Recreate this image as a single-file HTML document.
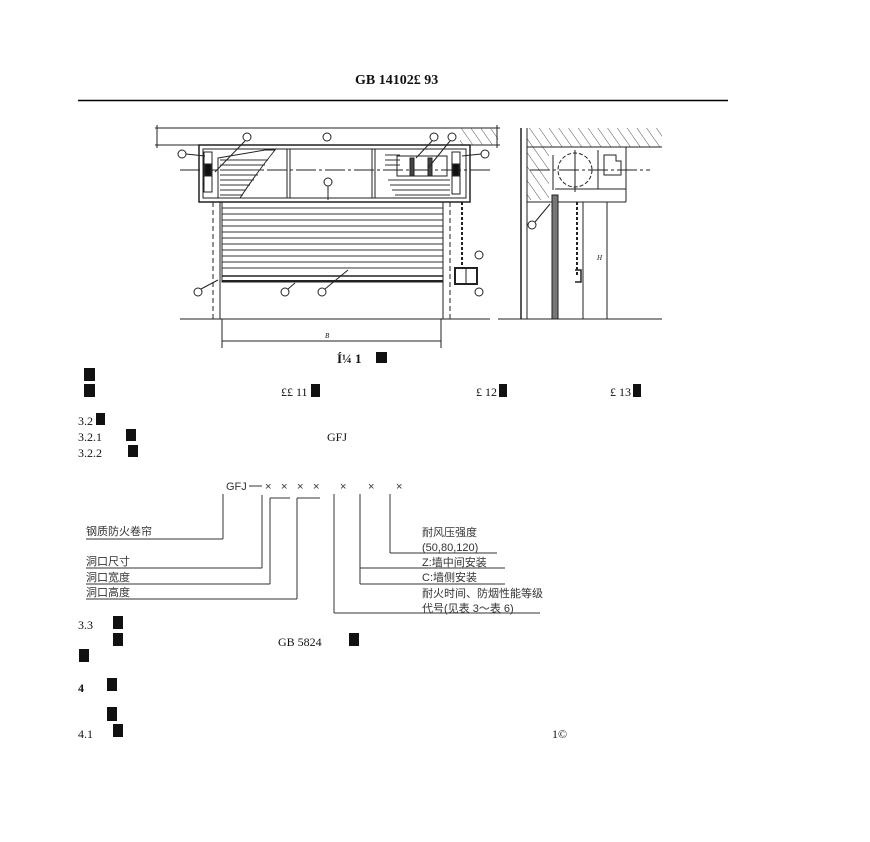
<!DOCTYPE html>
<html><head><meta charset="utf-8"><style>
html,body{margin:0;padding:0;background:#fff;}
svg{display:block;}
text{font-family:"Liberation Serif","Noto Serif CJK SC",serif;fill:#111;}
.c{font-family:"Liberation Sans","Noto Sans CJK SC",sans-serif;font-size:11px;fill:#333;}
</style></head><body>
<svg width="870" height="842" viewBox="0 0 870 842" xmlns="http://www.w3.org/2000/svg">
<defs>
<pattern id="h" width="8" height="8" patternUnits="userSpaceOnUse" patternTransform="rotate(-35)">
<line x1="0" y1="0" x2="0" y2="8" stroke="#555" stroke-width="1"/></pattern>
</defs>
<text x="355" y="84" font-size="14" font-weight="bold">GB 14102£ 93</text>
<line x1="78" y1="100.5" x2="728" y2="100.5" stroke="#000" stroke-width="1.5"/>

<g stroke="#222" fill="none" stroke-width="1">
<line x1="155" y1="128" x2="500" y2="128"/>
<line x1="155" y1="145" x2="500" y2="145"/>
<rect x="460" y="128" width="38" height="17" fill="url(#h)" stroke="none"/>
<line x1="157" y1="125" x2="157" y2="148"/>
<line x1="497" y1="125" x2="497" y2="148"/>
<rect x="199" y="145" width="271" height="57" stroke-width="1.5"/>
<rect x="203" y="149" width="263" height="49"/>
<line x1="287" y1="149" x2="287" y2="198"/><line x1="290" y1="149" x2="290" y2="198"/>
<line x1="372" y1="149" x2="372" y2="198"/><line x1="375" y1="149" x2="375" y2="198"/>
<line x1="180" y1="170" x2="490" y2="170" stroke-dasharray="20 3 3 3"/>
<path d="M218 158 L265 150 L275 150 Q255 175 240 198 L218 198 Z" fill="#fff"/>
<g stroke="#333">
<line x1="220" y1="160" x2="268" y2="160"/><line x1="220" y1="165" x2="265" y2="165"/><line x1="220" y1="170" x2="262" y2="170"/><line x1="220" y1="175" x2="258" y2="175"/><line x1="220" y1="180" x2="254" y2="180"/><line x1="220" y1="185" x2="250" y2="185"/><line x1="220" y1="190" x2="246" y2="190"/><line x1="220" y1="195" x2="243" y2="195"/>
</g>
<rect x="204" y="152" width="8" height="40"/>
<rect x="205" y="164" width="6" height="12" fill="#111"/>
<g stroke="#333">
<line x1="388" y1="180" x2="450" y2="180"/><line x1="390" y1="185" x2="450" y2="185"/><line x1="392" y1="190" x2="450" y2="190"/><line x1="395" y1="195" x2="450" y2="195"/>
<line x1="385" y1="155" x2="400" y2="155"/><line x1="385" y1="160" x2="400" y2="160"/><line x1="385" y1="165" x2="400" y2="165"/>
</g>
<rect x="397" y="156" width="50" height="20"/>
<rect x="410" y="158" width="4" height="18" fill="#444"/><rect x="428" y="158" width="4" height="18" fill="#444"/>
<rect x="452" y="152" width="8" height="42"/>
<rect x="453" y="164" width="6" height="12" fill="#111"/>
<circle cx="182" cy="154" r="4"/><line x1="186" y1="154" x2="205" y2="156"/>
<circle cx="247" cy="137" r="4"/><line x1="245" y1="141" x2="215" y2="172"/>
<circle cx="327" cy="137" r="4"/>
<circle cx="434" cy="137" r="4"/><line x1="432" y1="141" x2="416" y2="158"/>
<circle cx="452" cy="137" r="4"/><line x1="450" y1="141" x2="428" y2="168"/>
<circle cx="485" cy="154" r="4"/><line x1="481" y1="154" x2="462" y2="156"/>
<circle cx="328" cy="182" r="4"/><line x1="328" y1="186" x2="328" y2="200"/>
<circle cx="198" cy="292" r="4"/><line x1="201" y1="289" x2="218" y2="280"/>
<circle cx="285" cy="292" r="4"/><line x1="288" y1="289" x2="295" y2="283"/>
<circle cx="322" cy="292" r="4"/><line x1="325" y1="289" x2="348" y2="270"/>
<circle cx="479" cy="255" r="4"/>
<circle cx="479" cy="292" r="4"/>
<rect x="222" y="202" width="221" height="80"/>
<g stroke="#333">
<line x1="222" y1="208" x2="443" y2="208"/><line x1="222" y1="214" x2="443" y2="214"/><line x1="222" y1="220" x2="443" y2="220"/><line x1="222" y1="226" x2="443" y2="226"/><line x1="222" y1="232" x2="443" y2="232"/><line x1="222" y1="238" x2="443" y2="238"/><line x1="222" y1="244" x2="443" y2="244"/><line x1="222" y1="250" x2="443" y2="250"/><line x1="222" y1="256" x2="443" y2="256"/><line x1="222" y1="262" x2="443" y2="262"/><line x1="222" y1="268" x2="443" y2="268"/>
</g>
<line x1="222" y1="276" x2="443" y2="276" stroke-width="1.5"/>
<line x1="222" y1="281" x2="443" y2="281" stroke-width="2"/>
<line x1="213" y1="202" x2="213" y2="319" stroke-dasharray="5 3"/>
<line x1="220" y1="202" x2="220" y2="319"/>
<line x1="443" y1="202" x2="443" y2="319"/>
<line x1="450" y1="202" x2="450" y2="319" stroke-dasharray="5 3"/>
<line x1="462" y1="202" x2="462" y2="268" stroke-dasharray="3 2" stroke-width="2"/>
<rect x="455" y="268" width="22" height="16" stroke-width="2"/>
<line x1="466" y1="268" x2="466" y2="284"/>
<line x1="180" y1="319" x2="490" y2="319"/>
<line x1="222" y1="319" x2="222" y2="348"/><line x1="441" y1="319" x2="441" y2="348"/>
<line x1="222" y1="341" x2="441" y2="341"/>
<rect x="527" y="128" width="135" height="19" fill="url(#h)" stroke="none"/>
<rect x="527" y="147" width="22" height="53" fill="url(#h)" stroke="none"/>
<line x1="521" y1="128" x2="521" y2="319" stroke-width="1.5"/>
<line x1="527" y1="128" x2="527" y2="319"/>
<line x1="527" y1="147" x2="626" y2="147"/>
<line x1="626" y1="147" x2="626" y2="202"/>
<line x1="662" y1="147" x2="626" y2="147"/>
<line x1="527" y1="202" x2="626" y2="202"/>
<line x1="555" y1="189" x2="626" y2="189"/>
<line x1="598" y1="150" x2="598" y2="189"/>
<circle cx="575" cy="170" r="17" stroke-dasharray="4 2"/>
<path d="M604 155 h12 v6 h5 v14 h-17 z"/>
<line x1="530" y1="170" x2="650" y2="170" stroke-dasharray="20 3 3 3"/>
<line x1="575" y1="150" x2="575" y2="192"/>
<line x1="553" y1="155" x2="553" y2="190"/>
<rect x="552" y="195" width="6" height="124" fill="#777"/>
<line x1="577" y1="202" x2="577" y2="275" stroke-dasharray="3 2" stroke-width="2"/>
<path d="M575 270 h6 v12 h-6" stroke-width="1.5"/>
<line x1="583" y1="202" x2="583" y2="319"/>
<line x1="607" y1="202" x2="607" y2="319"/>
<line x1="498" y1="319" x2="662" y2="319"/>
<circle cx="532" cy="225" r="4"/><line x1="535" y1="222" x2="550" y2="204"/>
</g>
<text x="325" y="338" font-size="7" font-style="italic">B</text>
<text x="597" y="260" font-size="7" font-style="italic">H</text>
<text x="337" y="363" font-size="13" font-weight="bold">Í¼ 1 </text><rect x="376" y="352" width="11" height="11" fill="#111"/>

<g fill="#111">
<rect x="84" y="368" width="11" height="13"/>
<rect x="84" y="384" width="11" height="13"/>
<rect x="311" y="384" width="9" height="13"/>
<rect x="499" y="384" width="8" height="13"/>
<rect x="633" y="384" width="8" height="13"/>
<rect x="96" y="413" width="9" height="12"/>
<rect x="126" y="429" width="10" height="12"/>
<rect x="128" y="445" width="10" height="12"/>
<rect x="113" y="616" width="10" height="13"/>
<rect x="113" y="633" width="10" height="13"/>
<rect x="349" y="633" width="10" height="13"/>
<rect x="79" y="649" width="10" height="13"/>
<rect x="107" y="678" width="10" height="13"/>
<rect x="107" y="707" width="10" height="14"/>
<rect x="113" y="724" width="10" height="13"/>
</g>
<g font-size="12">
<text x="281" y="396">££ 11</text>
<text x="476" y="396">£ 12</text>
<text x="610" y="396">£ 13</text>
<text x="78" y="425">3.2</text>
<text x="78" y="441">3.2.1</text>
<text x="327" y="441">GFJ</text>
<text x="78" y="457">3.2.2</text>
<text x="78" y="629">3.3</text>
<text x="278" y="646">GB  5824</text>
<text x="78" y="692" font-weight="bold">4</text>
<text x="78" y="738">4.1</text>
<text x="552" y="738">1©</text>
</g>

<text x="226" y="490" class="c">GFJ</text>
<line x1="249" y1="486" x2="262" y2="486" stroke="#333"/>
<text x="265" y="490" class="c">×</text><text x="281" y="490" class="c">×</text><text x="297" y="490" class="c">×</text><text x="313" y="490" class="c">×</text>
<text x="340" y="490" class="c">×</text><text x="368" y="490" class="c">×</text><text x="396" y="490" class="c">×</text>
<g stroke="#333" fill="none" stroke-width="1">
<line x1="223" y1="494" x2="223" y2="539"/><line x1="86" y1="539" x2="223" y2="539"/>
<line x1="262" y1="495" x2="262" y2="568"/><line x1="86" y1="568" x2="262" y2="568"/>
<line x1="270" y1="498" x2="290" y2="498"/><line x1="270" y1="498" x2="270" y2="584"/><line x1="86" y1="584" x2="270" y2="584"/>
<line x1="297" y1="498" x2="320" y2="498"/><line x1="297" y1="498" x2="297" y2="599"/><line x1="86" y1="599" x2="297" y2="599"/>
<line x1="334" y1="494" x2="334" y2="613"/><line x1="334" y1="613" x2="540" y2="613"/>
<line x1="360" y1="494" x2="360" y2="584"/><line x1="360" y1="568" x2="505" y2="568"/><line x1="360" y1="584" x2="505" y2="584"/>
<line x1="390" y1="494" x2="390" y2="553"/><line x1="390" y1="553" x2="497" y2="553"/>
</g>
<text x="86" y="535" class="c">钢质防火卷帘</text>
<text x="86" y="565" class="c">洞口尺寸</text>
<text x="86" y="581" class="c">洞口宽度</text>
<text x="86" y="596" class="c">洞口高度</text>
<text x="422" y="536" class="c">耐风压强度</text>
<text x="422" y="551" class="c">(50,80,120)</text>
<text x="422" y="566" class="c">Z:墙中间安装</text>
<text x="422" y="581" class="c">C:墙侧安装</text>
<text x="422" y="597" class="c">耐火时间、防烟性能等级</text>
<text x="422" y="612" class="c">代号(见表 3～表 6)</text>
</svg>
</body></html>
